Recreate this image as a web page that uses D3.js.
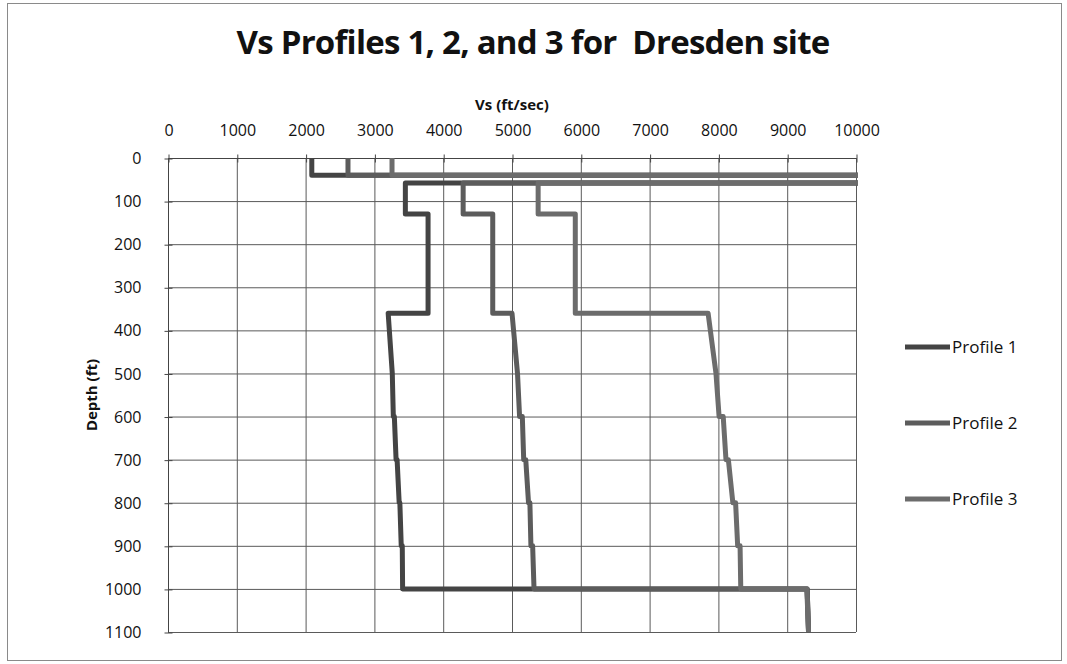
<!DOCTYPE html>
<html lang="en">
<head>
<meta charset="utf-8">
<title>Vs Profiles</title>
<style>
  body { margin: 0; background: #fff; }
  svg text { font-family: "Open Sans", "Noto Sans", sans-serif; fill: #111; }
</style>
</head>
<body>
<div id="chart"></div>
<script src="https://cdn.jsdelivr.net/npm/d3@7"></script>
<script>
// layer boundary depths (ft), shared by the three profiles
var depth = [0, 40, 40, 58, 58, 130, 130, 360, 360, 500, 500, 600, 600, 700, 700, 800, 800, 900, 900, 1000, 1000, 1100];

// Vs (ft/sec) at each depth point
var profile1 = [2090, 2090, 12000, 12000, 3450, 3450, 3780, 3780, 3200, 3260, 3260, 3275, 3290, 3315, 3330, 3360, 3370, 3390, 3405, 3410, 9290, 9310];
var profile2 = [2616, 2616, 12000, 12000, 4290, 4290, 4720, 4720, 5000, 5080, 5080, 5110, 5150, 5170, 5200, 5240, 5260, 5275, 5300, 5320, 9290, 9310];
var profile3 = [3256, 3256, 12000, 12000, 5380, 5380, 5920, 5920, 7850, 7965, 7965, 8010, 8070, 8110, 8145, 8210, 8250, 8280, 8315, 8325, 9285, 9310];

var seriesNames = ["Profile 1", "Profile 2", "Profile 3"];
var xTicks = [0, 1000, 2000, 3000, 4000, 5000, 6000, 7000, 8000, 9000, 10000];
var yTicks = [0, 100, 200, 300, 400, 500, 600, 700, 800, 900, 1000, 1100];

var width = 1067, height = 664;
var colors = ["#444444", "#5c5c5c", "#6c6c6c"];

var svg = d3.select("#chart").append("svg")
    .attr("width", width)
    .attr("height", height);

// outer frame
svg.append("rect")
    .attr("x", 7.5).attr("y", 3.5)
    .attr("width", 1054).attr("height", 657)
    .attr("fill", "none")
    .attr("stroke", "#8a8a8a");

var x = d3.scaleLinear().domain([0, 10000]).range([168, 856]);
var y = d3.scaleLinear().domain([0, 1100]).range([158, 632]);

// gridlines
svg.append("g").selectAll("line")
    .data(xTicks)
  .enter().append("line")
    .attr("x1", function(d) { return x(d) + 0.5; })
    .attr("x2", function(d) { return x(d) + 0.5; })
    .attr("y1", y(0)).attr("y2", y(1100))
    .attr("stroke", "#5a5a5a");

svg.append("g").selectAll("line")
    .data(yTicks)
  .enter().append("line")
    .attr("y1", function(d) { return y(d) + 0.5; })
    .attr("y2", function(d) { return y(d) + 0.5; })
    .attr("x1", x(0)).attr("x2", x(10000))
    .attr("stroke", "#5a5a5a");

// axes (Excel style cross ticks)
var xAxis = svg.append("g")
    .attr("transform", "translate(0.5," + (y(0) + 0.5) + ")")
    .call(d3.axisTop(x).tickValues(xTicks).tickSize(4).tickPadding(19).tickFormat(d3.format("d")));
xAxis.selectAll(".tick line").attr("y2", 4).attr("y1", -4);

var yAxis = svg.append("g")
    .attr("transform", "translate(" + (x(0) + 0.5) + ",0.5)")
    .call(d3.axisLeft(y).tickValues(yTicks).tickSize(4).tickPadding(23).tickFormat(d3.format("d")));
yAxis.selectAll(".tick line").attr("x2", 4).attr("x1", -4);

[xAxis, yAxis].forEach(function(a) {
  a.select(".domain").attr("stroke", "#444");
  a.selectAll(".tick line").attr("stroke", "#444");
  a.selectAll("text").attr("font-size", 16).attr("font-family", "'Open Sans', sans-serif").attr("fill", "#111");
});
yAxis.select(".domain").attr("d", "M0," + y(0) + "V" + y(1100));
xAxis.select(".domain").attr("d", "M" + x(0) + ",0H" + x(10000));

// profile lines
svg.append("clipPath").attr("id", "plot-clip")
  .append("rect")
    .attr("x", x(0)).attr("y", y(0) - 4)
    .attr("width", x(10000) - x(0) + 2).attr("height", y(1100) - y(0) + 8);

var line = d3.line()
    .x(function(d) { return x(d[0]); })
    .y(function(d) { return y(d[1]); });

[profile1, profile2, profile3].forEach(function(vs, i) {
  svg.append("path")
      .datum(vs.map(function(v, j) { return [v, depth[j]]; }))
      .attr("clip-path", "url(#plot-clip)")
      .attr("fill", "none")
      .attr("stroke", colors[i])
      .attr("stroke-width", 5)
      .attr("stroke-linejoin", "round")
      .attr("d", line);
});

// titles
svg.append("text")
    .attr("x", 533).attr("y", 54)
    .attr("text-anchor", "middle")
    .attr("font-weight", "bold")
    .attr("font-size", 33)
    .attr("letter-spacing", -0.75)
    .style("white-space", "pre")
    .text("Vs Profiles 1, 2, and 3 for  Dresden site");

svg.append("text")
    .attr("x", 512).attr("y", 110)
    .attr("text-anchor", "middle")
    .attr("font-weight", "bold")
    .attr("font-size", 15)
    .text("Vs (ft/sec)");

svg.append("text")
    .attr("transform", "translate(97," + y(550) + ") rotate(-90)")
    .attr("text-anchor", "middle")
    .attr("font-weight", "bold")
    .attr("font-size", 15)
    .text("Depth (ft)");

// legend
var legend = svg.append("g").selectAll("g")
    .data(seriesNames)
  .enter().append("g")
    .attr("transform", function(d, i) { return "translate(905," + (347 + i * 76) + ")"; });

legend.append("line")
    .attr("x1", 0).attr("x2", 45)
    .attr("stroke", function(d, i) { return colors[i]; })
    .attr("stroke-width", 5);

legend.append("text")
    .attr("x", 47).attr("dy", "0.35em")
    .attr("font-size", 17)
    .text(function(d) { return d; });
</script>
</body>
</html>
